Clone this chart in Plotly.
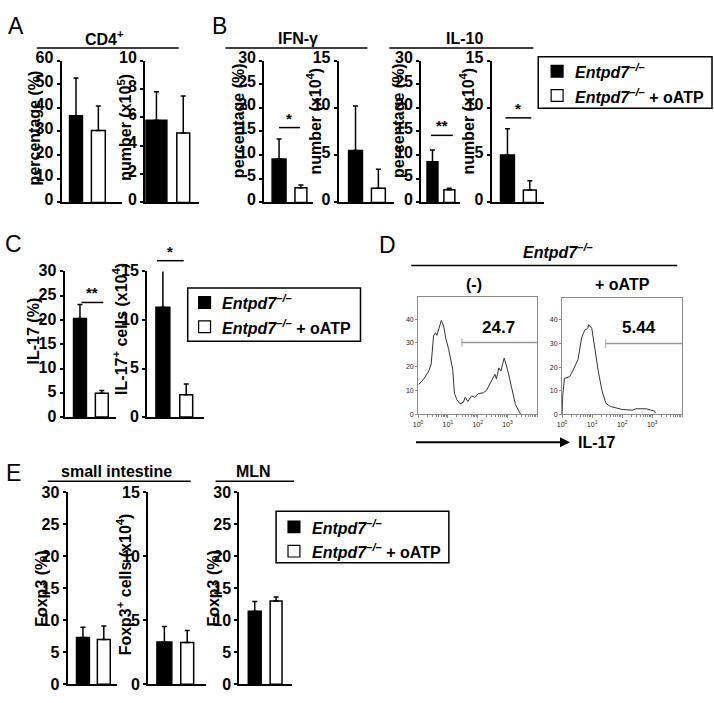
import plotly.graph_objects as go

W, H = 714, 703
FONT = "Liberation Sans, Arial, sans-serif"

# ---------------- data ----------------
groups = ["Entpd7-/-", "Entpd7-/- + oATP"]

# Panel A - CD4+
cd4_pct = [36.6, 30.4]
cd4_pct_err = [16.0, 10.4]
cd4_num = [5.8, 4.9]
cd4_num_err = [2.0, 2.6]

# Panel B - IFN-gamma / IL-10
ifng_pct = [9.2, 3.1]
ifng_pct_err = [4.2, 0.6]
ifng_num = [5.5, 1.5]
ifng_num_err = [4.7, 2.0]
il10_pct = [8.6, 2.7]
il10_pct_err = [2.5, 0.3]
il10_num = [5.0, 1.3]
il10_num_err = [2.8, 1.0]

# Panel C - IL-17
il17_pct = [20.3, 4.9]
il17_pct_err = [2.9, 0.6]
il17_num = [11.3, 2.3]
il17_num_err = [4.5, 1.1]

# Panel E - Foxp3
foxp3_si_pct = [7.3, 7.0]
foxp3_si_pct_err = [1.6, 2.1]
foxp3_si_num = [3.3, 3.25]
foxp3_si_num_err = [1.2, 0.95]
foxp3_mln_pct = [11.4, 13.0]
foxp3_mln_pct_err = [1.5, 0.6]

# Panel D - IL-17 histograms
hist_minus_x = [1.05, 1.55, 2.29, 2.75, 3.31, 3.80, 4.27, 6.03, 7.24, 8.51, 10.5, 14.5, 16.6,
                20.0, 25.7, 33.1, 38.0, 46.8, 63.1, 81.3, 105, 155, 200, 295, 380, 427, 513,
                603, 776, 1000, 1349, 1862, 2754]
hist_minus_y = [12.5, 14.8, 18.2, 21.1, 33.0, 34.3, 33.2, 39.5, 37.1, 31.9, 27.6, 18.9, 8.8,
                6.1, 4.4, 5.0, 7.1, 5.4, 7.7, 7.1, 8.7, 9.0, 10.1, 14.1, 16.8, 14.8, 19.5,
                18.2, 23.6, 18.9, 11.5, 4.0, 0.0]
hist_oatp_x = [1.0, 1.05, 1.2, 1.78, 2.29, 3.39, 4.47, 5.75, 7.08, 7.76, 9.77, 12.0, 16.2,
               21.4, 28.8, 40.7, 60.3, 100, 219, 288, 631, 1202, 1288]
hist_oatp_y = [0.0, 7.9, 15.2, 15.9, 18.5, 23.2, 32.5, 35.8, 36.4, 38.0, 36.4, 28.5, 17.9,
               9.9, 4.6, 3.3, 2.6, 2.0, 1.7, 2.3, 2.3, 1.3, 0.4]
gate_minus_x = [29.5, 10000]
gate_minus_y = [30.2, 30.2]
gate_minus_pct = "24.7"
gate_oatp_x = [28.2, 10000]
gate_oatp_y = [30.0, 30.0]
gate_oatp_pct = "5.44"

hist_tickvals = [1, 10, 100, 1000]
hist_ticktext = ["10<sup>0</sup>", "10<sup>1</sup>", "10<sup>2</sup>", "10<sup>3</sup>"]
hist_ytickvals = [0, 10, 20, 30, 40]

# ---------------- helpers ----------------
def P(x):
    return x / W


def Q(y):
    return 1 - y / H


def names(i):
    if i == 1:
        return "xaxis", "yaxis", "x", "y"
    return f"xaxis{i}", f"yaxis{i}", f"x{i}", f"y{i}"


fig = go.Figure()
layout = dict(
    width=W, height=H, margin=dict(l=0, r=0, t=0, b=0),
    paper_bgcolor="white", plot_bgcolor="rgba(0,0,0,0)", showlegend=False,
    font=dict(family=FONT, color="black"),
)
annotations = []
shapes = []

# (values, errors, ymax, dtick, axis_x0, axis_x1, top, bottom, black span, white span, label shift)
bar_specs = [
    (cd4_pct, cd4_pct_err, 60, 10, 57, 118, 51, 197, (65, 78), (87, 101), -3),
    (cd4_num, cd4_num_err, 10, 2, 141, 195, 51, 197, (142, 163), (173, 186), -3),
    (ifng_pct, ifng_pct_err, 30, 5, 261, 310, 51, 197, (269, 283), (292, 304), -3),
    (ifng_num, ifng_num_err, 15, 5, 336, 392, 51, 197, (346, 360), (369, 383), -3),
    (il10_pct, il10_pct_err, 30, 5, 419, 458, 51, 197, (425, 436), (442, 453), -3),
    (il10_num, il10_num_err, 15, 5, 490, 543, 51, 197, (499, 513), (522, 535), -3),
    (il17_pct, il17_pct_err, 30, 5, 60, 112, 268, 418, (69, 82), (91, 104), -1),
    (il17_num, il17_num_err, 15, 5, 143, 200, 268, 418, (152, 166), (176, 189), -1),
    (foxp3_si_pct, foxp3_si_pct_err, 30, 5, 63, 113, 495, 693, (72, 85), (93, 106), 0),
    (foxp3_si_num, foxp3_si_num_err, 15, 5, 144, 202, 495, 693, (153, 168), (177, 190), 0),
    (foxp3_mln_pct, foxp3_mln_pct_err, 30, 5, 236, 289, 495, 693, (245, 258), (267, 279), 0),
]

for i, spec in enumerate(bar_specs, start=1):
    vals, errs, ymax, dtick, x0, x1, top, bot, bs, ws, shift = spec
    cb = (bs[0] + bs[1]) / 2
    cw = (ws[0] + ws[1]) / 2
    sep = cw - cb
    xa, ya, xr, yr = names(i)
    fig.add_trace(go.Bar(
        x=[0, 1], y=vals, name="", textposition="none",
        width=[(bs[1] - bs[0]) / sep, (ws[1] - ws[0]) / sep],
        marker=dict(color=["black", "white"], line=dict(color="black", width=1.5)),
        error_y=dict(type="data", symmetric=False, array=errs, arrayminus=[0, 0],
                     color="black", thickness=1.5, width=2.5),
        xaxis=xr, yaxis=yr, cliponaxis=False, hoverinfo="skip",
    ))
    layout[xa] = dict(domain=[P(x0), P(x1)], anchor=yr,
                      range=[(x0 - cb) / sep, (x1 - cb) / sep],
                      showline=True, linecolor="black", linewidth=2,
                      showticklabels=False, ticks="", showgrid=False, zeroline=False,
                      fixedrange=True)
    layout[ya] = dict(domain=[Q(bot), Q(top)], anchor=xr, range=[0, ymax],
                      tick0=0, dtick=dtick, showline=True, linecolor="black", linewidth=2,
                      ticks="outside", ticklen=3, tickwidth=1.5, tickcolor="black",
                      tickfont=dict(size=16, family=FONT, weight="bold", color="black"),
                      ticklabelshift=shift, ticklabelstandoff=0,
                      showgrid=False, zeroline=False, fixedrange=True)

# ---------------- histograms (panel D) ----------------
minor_vals = [m * d for d in (1, 10, 100, 1000) for m in range(2, 10)] + [10000]
hists = [
    (hist_minus_x, hist_minus_y, gate_minus_x, gate_minus_y, 416, 536, 294, 415),
    (hist_oatp_x, hist_oatp_y, gate_oatp_x, gate_oatp_y, 561, 682, 295, 415),
]
for k, (hx, hy, gx, gy, x0, x1, top, bot) in enumerate(hists):
    i = 12 + k
    xa, ya, xr, yr = names(i)
    fig.add_trace(go.Scatter(x=hx, y=hy, mode="lines", line=dict(color="#333", width=1),
                             xaxis=xr, yaxis=yr, hoverinfo="skip"))
    fig.add_trace(go.Scatter(x=gx, y=gy, mode="lines+markers",
                             line=dict(color="#9a9a9a", width=1.5),
                             marker=dict(symbol="line-ns-open", size=[6, 0],
                                         line=dict(color="#9a9a9a", width=1.2)),
                             xaxis=xr, yaxis=yr, cliponaxis=False, hoverinfo="skip"))
    layout[xa] = dict(domain=[P(x0), P(x1)], anchor=yr, type="log", range=[0, 4],
                      showline=True, mirror=True, linecolor="#8a8a8a", linewidth=1,
                      tickvals=hist_tickvals, ticktext=hist_ticktext,
                      ticks="outside", ticklen=3, tickcolor="#8a8a8a",
                      tickfont=dict(size=7, color="#222"),
                      minor=dict(tickvals=minor_vals, ticks="outside", ticklen=2,
                                 tickcolor="#8a8a8a"),
                      showgrid=False, zeroline=False, fixedrange=True)
    layout[ya] = dict(domain=[Q(bot), Q(top)], anchor=xr, range=[0, 49.5],
                      tickvals=hist_ytickvals, showline=True, mirror=True,
                      linecolor="#8a8a8a", linewidth=1, ticks="outside", ticklen=2,
                      tickcolor="#8a8a8a", tickfont=dict(size=7, color="#222"),
                      showgrid=False, zeroline=False, fixedrange=True)


# ---------------- annotations & shapes ----------------
def text(x, y, t, size=16, bold=True, xanchor="center", yanchor="middle", angle=0,
         color="black"):
    annotations.append(dict(
        x=P(x), y=Q(y), xref="paper", yref="paper", text=t, showarrow=False,
        xanchor=xanchor, yanchor=yanchor, textangle=angle,
        font=dict(size=size, family=FONT, color=color, weight="bold" if bold else "normal"),
    ))


def hline(x0, x1, y, width=1.5, color="black"):
    shapes.append(dict(type="line", xref="paper", yref="paper",
                       x0=P(x0), x1=P(x1), y0=Q(y), y1=Q(y),
                       line=dict(color=color, width=width)))


# panel letters
for letter, lx, ly in [("A", 11, 15), ("B", 216, 15), ("C", 9, 240), ("D", 385, 241), ("E", 9, 476)]:
    text(lx, ly, letter, size=23, bold=False)

# group titles
text(100, 28, "CD4<sup>+</sup>")
hline(32, 175, 38)
text(295, 28, "IFN-γ")
hline(222, 365, 38)
text(463, 28, "IL-10")
hline(387, 532, 38)
text(112, 474, "small intestine")
hline(43, 187, 484)
text(250, 474, "MLN")
hline(212, 291, 484)

# y-axis titles
ytitles = [
    ("percentage (%)", 30, 120),
    ("number (x10<sup>5</sup>)", 120, 120),
    ("percentage (%)", 235, 113),
    ("number (x10<sup>4</sup>)", 311, 113),
    ("percentage (%)", 397, 113),
    ("number (x10<sup>4</sup>)", 465, 113),
    ("IL-17 (%)", 29, 329),
    ("IL-17<sup>+</sup> cells (x10<sup>4</sup>)", 116, 327),
    ("Foxp3 (%)", 36, 595),
    ("Foxp3<sup>+</sup> cells (x10<sup>4</sup>)", 120, 590),
    ("Foxp3 (%)", 210, 595),
]
for t, x, y in ytitles:
    text(x, y, t, size=16, angle=-90)

# significance markers
for x0, x1, y, t in [(276, 297, 120, "*"), (429, 451, 128, "**"), (504, 530, 110, "*"),
                     (77, 99, 300, "**"), (153, 180, 257, "*")]:
    hline(x0, x1, y)
    text((x0 + x1) / 2, y + 1, t, size=15, yanchor="bottom")


# legends
def legend(bx0, bx1, by0, by1, sqx, rows, tx):
    shapes.append(dict(type="rect", xref="paper", yref="paper",
                       x0=P(bx0), x1=P(bx1), y0=Q(by1), y1=Q(by0),
                       line=dict(color="black", width=1.5), fillcolor="white", layer="below"))
    labels = ["<i>Entpd7<sup>–/–</sup></i>", "<i>Entpd7<sup>–/–</sup></i> + oATP"]
    fills = ["black", "white"]
    for ry, lab, fc in zip(rows, labels, fills):
        shapes.append(dict(type="rect", xref="paper", yref="paper",
                           x0=P(sqx), x1=P(sqx + 12), y0=Q(ry + 6), y1=Q(ry - 6),
                           line=dict(color="black", width=1.2), fillcolor=fc))
        text(tx, ry, lab, size=16, xanchor="left")


legend(537, 712, 47, 100, 550, [62, 87], 572)
legend(184, 358, 285, 340, 195, [300, 325], 217)
legend(273, 447, 515, 568, 285, [531, 556], 307)

# panel D texts
text(557, 247, "<i>Entpd7<sup>–/–</sup></i>", size=16)
hline(409, 677, 262)
text(472, 282, "(-)", size=16)
text(622, 282, "+ oATP", size=16)
text(497, 326, gate_minus_pct, size=17)
text(638, 326, gate_oatp_pct, size=17)
annotations.append(dict(x=P(569), y=Q(444), ax=-157, ay=0, xref="paper", yref="paper",
                        axref="pixel", ayref="pixel", text=" ", showarrow=True,
                        arrowhead=2, arrowsize=1, arrowwidth=2, arrowcolor="black"))
text(596, 444, "IL-17", size=16)

layout["annotations"] = annotations
layout["shapes"] = shapes
fig.update_layout(**layout)
fig.write_html("out.html", config={"displayModeBar": False},
               post_script="document.body.style.margin='0';document.body.style.padding='0';")
